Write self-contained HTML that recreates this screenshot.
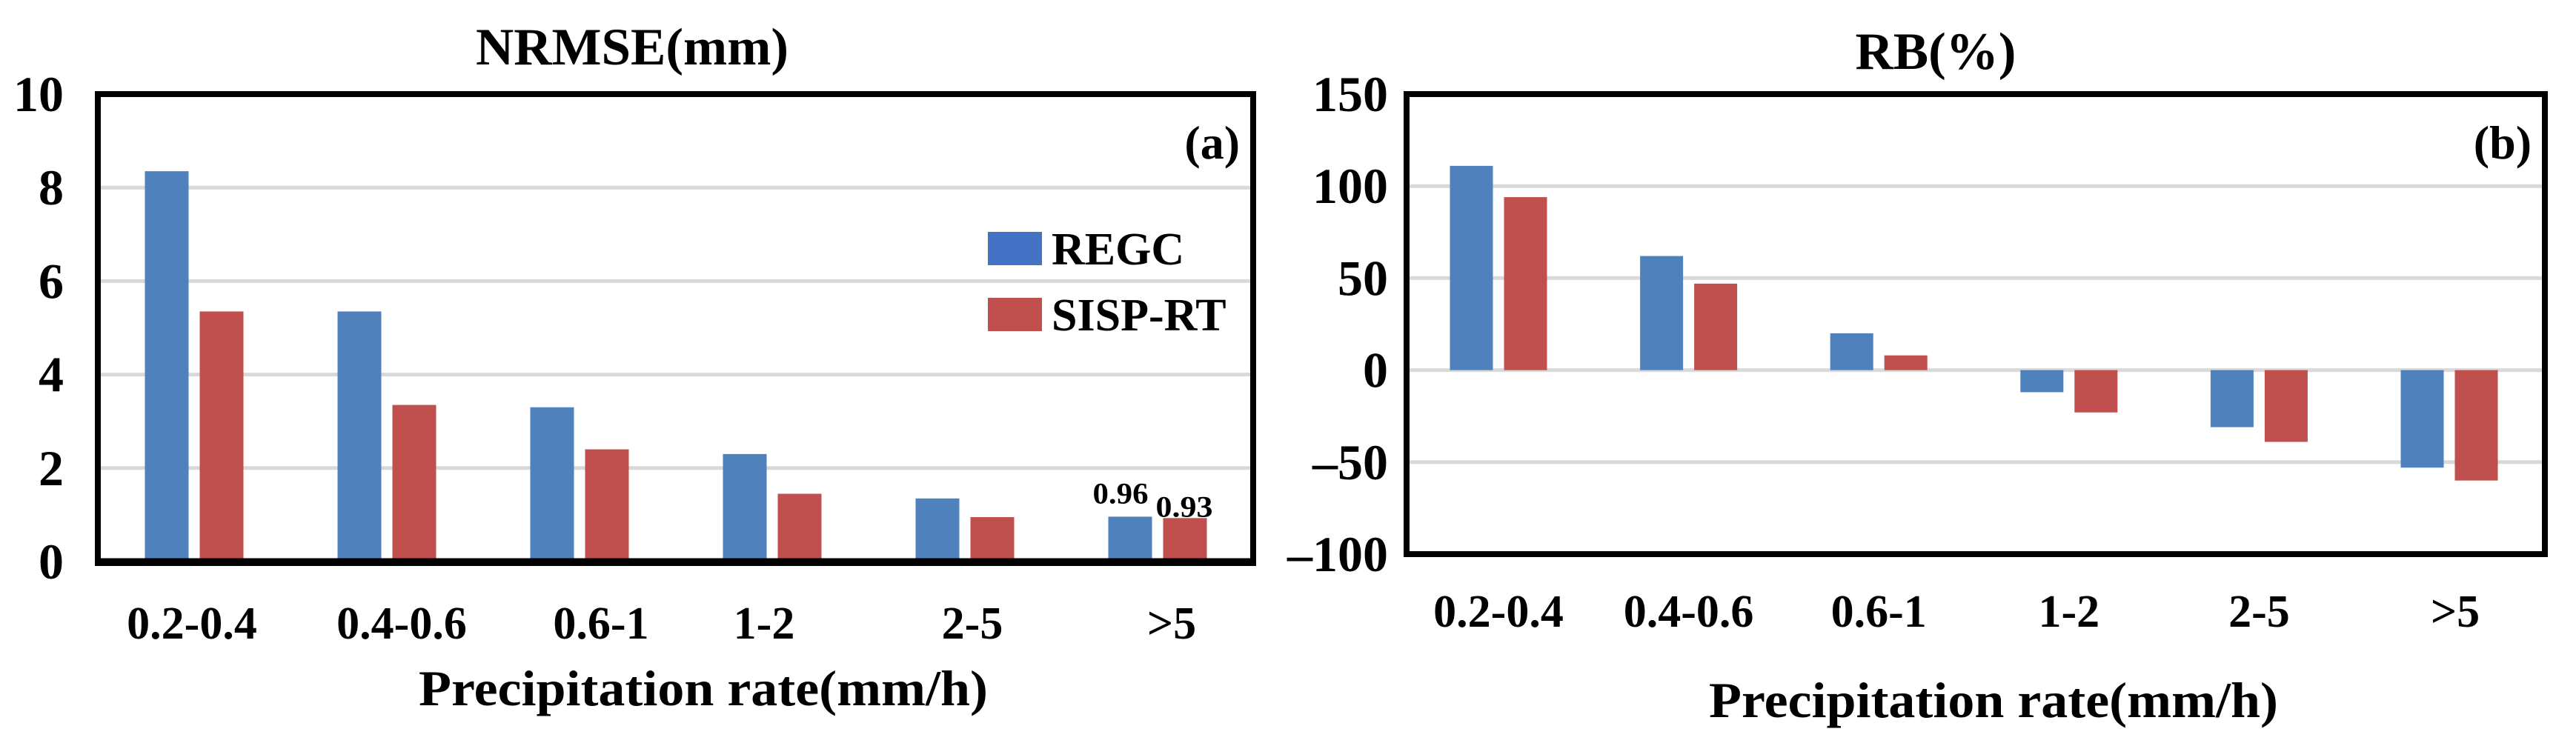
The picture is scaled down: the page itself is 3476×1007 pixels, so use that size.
<!DOCTYPE html>
<html><head><meta charset="utf-8"><style>
html,body{margin:0;padding:0;background:#fff;}
svg{display:block;font-family:"Liberation Serif",serif;font-weight:bold;}
</style></head><body>
<svg id="s" width="3476" height="1007" viewBox="0 0 3476 1007"></svg>
<script>
const categories=["0.2-0.4","0.4-0.6","0.6-1","1-2","2-5",">5"];
const nrmseRegc=[8.35,5.35,3.3,2.3,1.35,0.96];
const nrmseSisp=[5.35,3.35,2.4,1.45,0.95,0.93];
const rbRegc=[111,62,20,-12,-31,-53];
const rbSisp=[94,47,8,-23,-39,-60];
const ticksA=[0,2,4,6,8,10];
const ticksB=[-100,-50,0,50,100,150];
const seriesNames=["REGC","SISP-RT"];
const BLUE="#4f81bd",RED="#c0504d";
const svg=document.getElementById('s');
const NS="http://www.w3.org/2000/svg";
function mk(tag,attrs,parent,text){const e=document.createElementNS(NS,tag);for(const k in attrs)e.setAttribute(k,attrs[k]);if(text!==undefined)e.textContent=text;(parent||svg).appendChild(e);return e;}
function txt(parent,x,y,str,size,anchor,extra){
  const a={x:x,y:y,'font-size':size,'text-anchor':anchor||'start'};
  if(extra)for(const k in extra)a[k]=extra[k];
  return mk('text',a,parent,str);
}

function panel(cfg){
  const g=mk('g',{});
  
  
  const y=v=>cfg.y0+(v-cfg.min)/(cfg.max-cfg.min)*(cfg.y1-cfg.y0);
  const xc=i=>cfg.c0+i*cfg.step;
  cfg.ticks.forEach(t=>{
    const l=mk('line',{x1:cfg.left,x2:cfg.right,y1:y(t),y2:y(t),stroke:'#d9d9d9','stroke-width':5},g);
    
    
    const tx=txt(g,cfg.tickX,y(t)+23,cfg.tickFmt(t),68,'end');
    
    
  });
  const bw=cfg.bw,gap=15;
  [cfg.s1,cfg.s2].forEach((arr,si)=>{
    arr.forEach((v,i)=>{
      const x=si===0?xc(i)-gap/2-bw:xc(i)+gap/2;
      const ya=y(v),yb=y(0);
      const r=mk('rect',{x:x,y:Math.min(ya,yb),width:bw,height:Math.abs(yb-ya),fill:si===0?BLUE:RED},g);
      
      
    });
  });
  categories.forEach((c,i)=>{
    const t=txt(g,xc(i)+cfg.labOff[i],cfg.labY,c,62,'middle');
    
    
  });
  if(cfg.zeroBlack){
    const z=mk('line',{x1:cfg.left,x2:cfg.right,y1:y(0),y2:y(0),stroke:'#000','stroke-width':9},g);
    
    
  }
  const fr=mk('rect',{x:cfg.left,y:cfg.y1,width:cfg.right-cfg.left,height:cfg.frameB-cfg.y1,fill:'none',stroke:'#000','stroke-width':8},g);
  
  
  const tt=txt(g,cfg.titleX,cfg.titleY,cfg.title,71,'middle');
  
  
  const xt=txt(g,cfg.xtX,cfg.xtY,'Precipitation rate(mm/h)',68,'middle',{textLength:768,lengthAdjust:'spacingAndGlyphs'});
  
  
  const pl=txt(g,cfg.right-18,214,cfg.panelLabel,64,'end');
  
  
  return {g,y,xc};
}

const A=panel({name:'nrmse-chart',left:132,right:1691,y0:758,y1:127,frameB:760,min:0,max:10,ticks:ticksA,tickFmt:t=>String(t),tickX:86,bw:59,
  c0:262,step:260,s1:nrmseRegc,s2:nrmseSisp,labOff:[-3,20,29,-11,10,19],labY:862,zeroBlack:true,title:'NRMSE(mm)',titleX:853,titleY:87,xtX:949,xtY:952,panelLabel:'(a)'});
const dl1=txt(A.g,A.xc(5)-50,A.y(nrmseRegc[5])-18,nrmseRegc[5].toFixed(2),40,'middle',{textLength:75,lengthAdjust:'spacingAndGlyphs'});


const dl2=txt(A.g,A.xc(5)+36,A.y(nrmseSisp[5])-2,nrmseSisp[5].toFixed(2),40,'middle',{textLength:77,lengthAdjust:'spacingAndGlyphs'});


const lg=mk('g',{},A.g);


seriesNames.forEach((n,i)=>{
  const r=mk('rect',{x:1333,y:313+i*89,width:73,height:45,fill:i===0?'#4472c4':RED},lg);
  
  
  const t=txt(lg,1419,357+i*89,n,62,'start');
  
  
});

panel({name:'rb-chart',left:1898,right:3434,y0:748,y1:127,frameB:748,min:-100,max:150,ticks:ticksB,tickFmt:t=>t<0?'\u2013'+Math.abs(t):String(t),tickX:1873,bw:58,
  c0:2022,step:256.6,s1:rbRegc,s2:rbSisp,labOff:[0,0,0,0,0,8],labY:846,zeroBlack:false,title:'RB(%)',titleX:2612,titleY:93,xtX:2690,xtY:968,panelLabel:'(b)'});
</script>
</body></html>
